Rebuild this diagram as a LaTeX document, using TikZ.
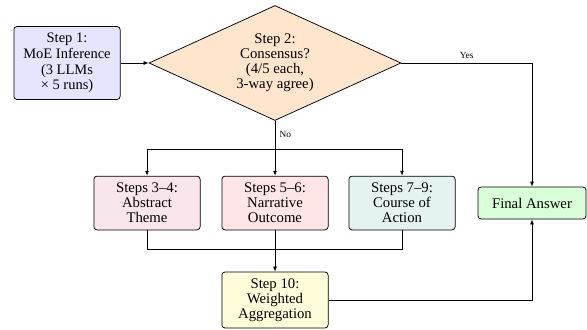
\documentclass[tikz,border=0pt]{standalone}
\usepackage{fontspec}
\setmainfont{Liberation Serif}
\usepackage{xcolor}
\usetikzlibrary{shapes.geometric,arrows.meta}

\begin{document}
\begin{tikzpicture}[x=0.8pt,y=0.8pt,>={Latex[length=4pt,width=3.2pt]},line width=0.6pt,
    stepbox/.style={draw,rounded corners=2.5pt,align=center,inner sep=0pt,
      font=\rmfamily\fontsize{11.8}{12}\selectfont,minimum width=85pt,minimum height=43pt},
    decision/.style={draw,diamond,aspect=2.2,align=center,inner sep=0pt,fill=orange!20,
      font=\rmfamily\fontsize{11.8}{12}\selectfont,minimum width=201.6pt,minimum height=92pt},
    edgelabel/.style={font=\rmfamily\fontsize{7.5}{8}\selectfont}]
  \useasboundingbox (0,0) rectangle (587,329);
  \node[stepbox,fill=blue!10,minimum height=58.4pt,font=\rmfamily\fontsize{11.6}{12.6}\selectfont] (step1) at (67,266) {Step 1:\\MoE Inference\\(3 LLMs\\× 5 runs)};
  \node[decision] (consensus) at (275,266) {Step 2:\\Consensus?\\(4/5 each,\\3-way agree)};
  \node[stepbox,fill=purple!10] (theme) at (147,126) {Steps 3--4:\\Abstract\\Theme};
  \node[stepbox,fill=red!10] (outcome) at (275,126) {Steps 5--6:\\Narrative\\Outcome};
  \node[stepbox,fill=teal!10] (action) at (402,126) {Steps 7--9:\\Course of\\Action};
  \node[stepbox,fill=yellow!15,minimum height=44.8pt] (aggregate) at (275,29) {Step 10:\\Weighted\\Aggregation};
  \node[stepbox,fill=green!15,minimum width=86.4pt,minimum height=25.6pt] (final) at (532,126) {Final Answer};
  \coordinate (split) at (275,180);
  \coordinate (merge) at (275,80);
  \draw[->] (step1) -- (consensus);
  \draw[->] (consensus.east) -| node[edgelabel,pos=0.25,above]{Yes} (final);
  \draw (consensus.south) -- node[edgelabel,right]{No} (split);
  \draw[->] (split) -| (theme);
  \draw[->] (split) -- (outcome);
  \draw[->] (split) -| (action);
  \draw (theme) |- (merge);
  \draw (action) |- (merge);
  \draw[->] (outcome) -- (aggregate);
  \draw[->] (aggregate) -| (final);
\end{tikzpicture}
\end{document}
